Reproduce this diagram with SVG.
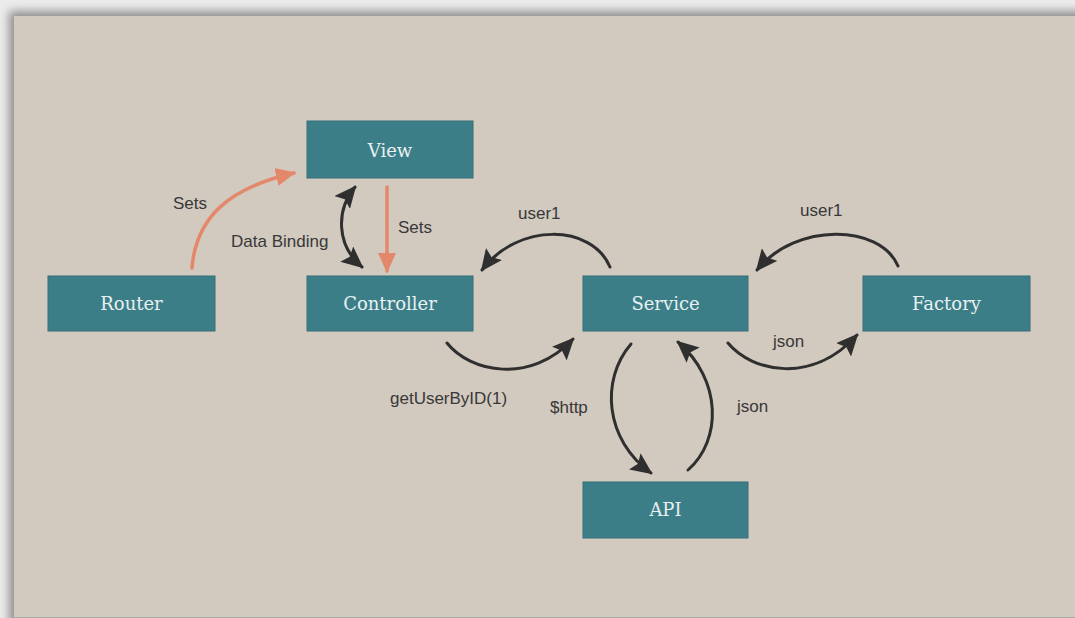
<svg xmlns="http://www.w3.org/2000/svg" width="1075" height="618" viewBox="0 0 1075 618">
  <defs>
    <filter id="shadow" x="-5%" y="-5%" width="110%" height="110%">
      <feGaussianBlur stdDeviation="5"/>
    </filter>
    <marker id="headDark" viewBox="0 0 22 20" refX="20" refY="10" markerWidth="22" markerHeight="20" markerUnits="userSpaceOnUse" orient="auto-start-reverse">
      <path d="M0,0 L22,10 L0,20 L4,10 z" fill="#2f2f2f"/>
    </marker>
    <marker id="headSalmon" viewBox="0 0 20 18" refX="18" refY="9" markerWidth="20" markerHeight="18" markerUnits="userSpaceOnUse" orient="auto">
      <path d="M0,0 L20,9 L0,18 z" fill="#e3886b"/>
    </marker>
    <style>
      .node rect { fill: #3c7e88; stroke: #356f78; stroke-width: 1; }
      .node text { font-family: "DejaVu Serif", "Liberation Serif", serif; font-size: 18px; fill: #e8f0f1; text-anchor: middle; }
      .lbl { font-family: "Liberation Sans", Arial, sans-serif; font-size: 17px; fill: #383838; }
      .dark { fill: none; stroke: #2f2f2f; stroke-width: 3; stroke-linecap: round; marker-end: url(#headDark); }
      .salmon { fill: none; stroke: #e3886b; stroke-width: 3.5; stroke-linecap: round; marker-end: url(#headSalmon); }
    </style>
  </defs>

  <!-- page background and panel -->
  <rect x="0" y="0" width="1075" height="618" fill="#ececec"/>
  <rect x="9" y="11" width="1075" height="615" fill="#8f8f8f" filter="url(#shadow)"/>
  <rect x="14" y="16" width="1061" height="601" fill="#d2c9bf"/>
  <line x1="14" y1="617.5" x2="1075" y2="617.5" stroke="#a8a8a8" stroke-width="1"/>

  <!-- connectors -->
  <g id="connectors">
    <path class="salmon" d="M192,268 C196,218 228,188 294,173"/>
    <path class="salmon" d="M387,187 L387,271"/>
    <path class="dark" style="marker-start:url(#headDark)" d="M355,187 C336,210 336,245 362,267"/>
    <path class="dark" d="M610,267 C592,224 518,222 482,270"/>
    <path class="dark" d="M898,266 C880,224 796,222 757,270"/>
    <path class="dark" d="M447,343 C470,372 530,385 573,339"/>
    <path class="dark" d="M728,343 C752,372 812,385 857,335"/>
    <path class="dark" d="M631,344 C600,380 605,440 651,473"/>
    <path class="dark" d="M688,470 C722,440 722,380 678,342"/>
  </g>

  <!-- connector labels -->
  <g id="labels">
    <text class="lbl" x="173" y="209">Sets</text>
    <text class="lbl" x="231" y="247">Data Binding</text>
    <text class="lbl" x="398" y="233">Sets</text>
    <text class="lbl" x="518" y="219">user1</text>
    <text class="lbl" x="800" y="216">user1</text>
    <text class="lbl" x="773" y="347">json</text>
    <text class="lbl" x="390" y="404">getUserByID(1)</text>
    <text class="lbl" x="550" y="413">$http</text>
    <text class="lbl" x="737" y="412">json</text>
  </g>

  <!-- nodes -->
  <g id="view" class="node">
    <rect x="307" y="121" width="166" height="57"/>
    <text x="390" y="157">View</text>
  </g>
  <g id="router" class="node">
    <rect x="48" y="276" width="167" height="55"/>
    <text x="131.5" y="310">Router</text>
  </g>
  <g id="controller" class="node">
    <rect x="307" y="276" width="166" height="55"/>
    <text x="390" y="310">Controller</text>
  </g>
  <g id="service" class="node">
    <rect x="583" y="276" width="165" height="55"/>
    <text x="665.5" y="310">Service</text>
  </g>
  <g id="factory" class="node">
    <rect x="863" y="276" width="167" height="55"/>
    <text x="946.5" y="310">Factory</text>
  </g>
  <g id="api" class="node">
    <rect x="583" y="482" width="165" height="56"/>
    <text x="665.5" y="516">API</text>
  </g>
</svg>
